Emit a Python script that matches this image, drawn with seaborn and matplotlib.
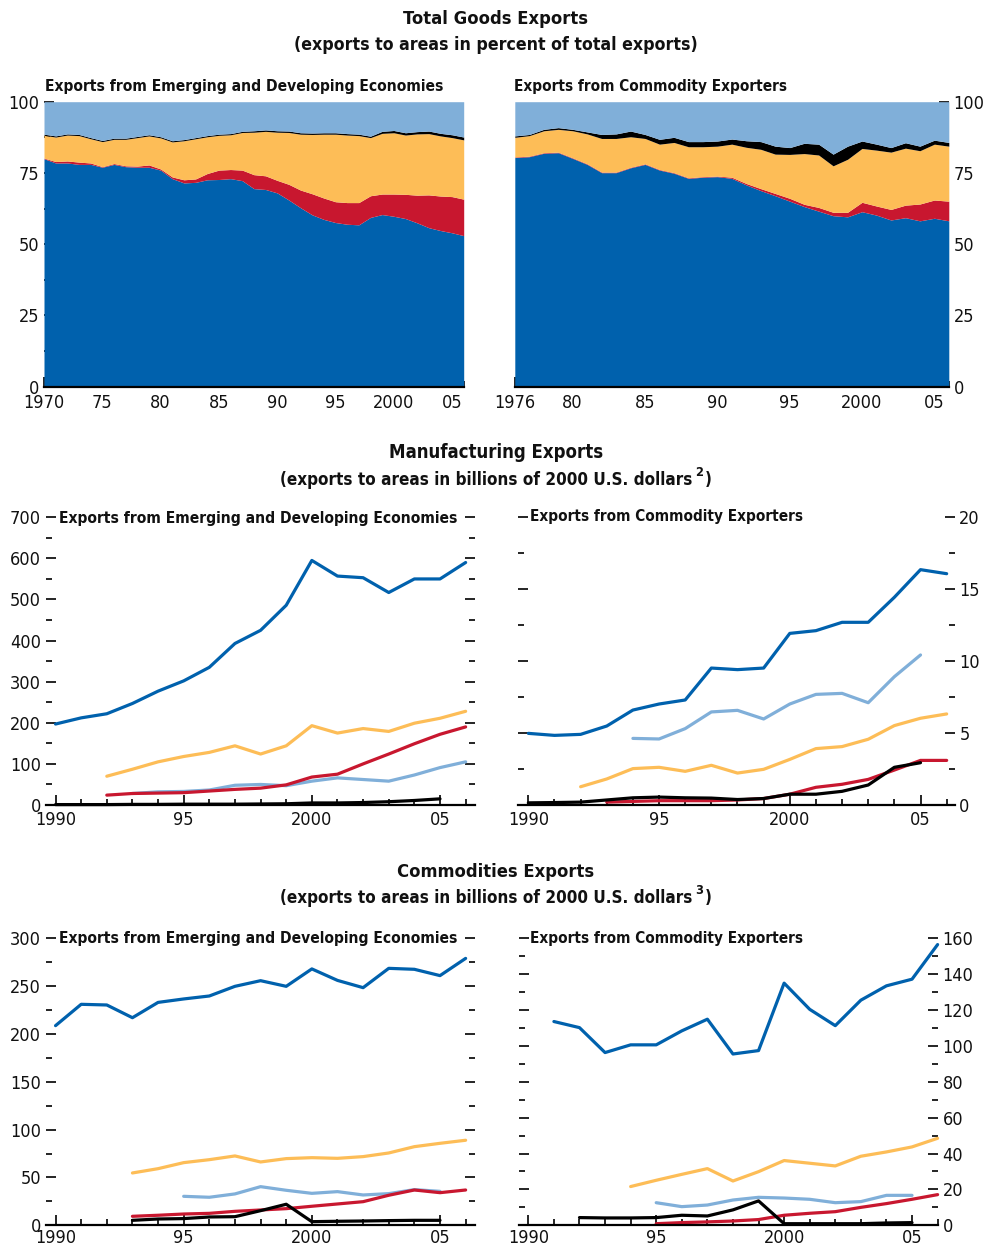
import numpy as np
import pandas as pd
import matplotlib
matplotlib.use("Agg")
import matplotlib.pyplot as plt
import matplotlib.font_manager as fm
from matplotlib.ticker import MultipleLocator, FixedLocator
import seaborn as sns

# 颜色
DARK_BLUE = "#0061ad"
LIGHT_BLUE = "#80afd9"
ORANGE = "#fdbd57"
RED = "#c8172f"
BLACK = "#000000"

# ---- Total goods exports, shares in percent ----
years_ede_share = list(range(1970, 2007))
ede_blue = [80, 78.5, 78.5, 78, 78, 77, 78, 77.2, 77, 77, 76, 73, 71.5, 71.7, 72.6, 72.7, 73, 72.3,
            69.5, 69.2, 68, 65.5, 62.8, 60.3, 58.7, 57.6, 57, 56.8, 59.4, 60.4, 59.8, 59, 57.5,
            55.8, 54.8, 54, 53]
ede_red = [0.2, 0.5, 0.7, 0.8, 0.5, 0.2, 0.3, 0.3, 0.4, 0.8, 0.4, 0.6, 1.1, 1.2, 2.2, 3.3, 3.2, 3.7,
           4.9, 4.8, 4.4, 5.5, 6.2, 7.4, 7.5, 7.3, 7.6, 7.8, 7.6, 7.2, 7.8, 8.5, 9.7, 11.5, 12.1,
           12.7, 12.8]
ede_orange = [8.0, 8.6, 9.1, 9.3, 8.5, 8.8, 8.5, 9.3, 10.0, 10.2, 10.9, 12.3, 13.7, 14.1, 12.9, 12.2,
              12.2, 13.2, 14.9, 15.6, 16.9, 18.2, 19.6, 20.8, 22.4, 23.7, 23.7, 23.5, 20.4, 21.3,
              21.5, 20.8, 21.5, 21.5, 21.1, 20.7, 20.8]
ede_black = [0.4] * 18 + [0.5] * 11 + [0.7, 0.8, 0.8, 0.8, 0.9, 0.9, 1.0, 1.0]
ede_lightblue = [11.4, 12.0, 11.3, 11.5, 12.6, 13.6, 12.8, 12.8, 12.2, 11.6, 12.3, 13.7, 13.3, 12.6,
                 11.9, 11.4, 11.2, 10.4, 10.2, 9.9, 10.2, 10.3, 10.9, 11.0, 10.9, 10.9, 11.2, 11.4,
                 12.1, 10.4, 10.1, 10.9, 10.5, 10.3, 11.1, 11.6, 12.4]

years_ce_share = list(range(1976, 2007))
ce_blue = [80.4, 80.7, 81.9, 82.1, 80.1, 78, 75.1, 75.1, 76.8, 78.0, 76, 74.9, 73.1, 73.5, 73.7, 73.1,
           70.8, 68.8, 67, 65.1, 63.2, 61.6, 60, 59.6, 61.4, 60.2, 58.5, 59.3, 58.2, 59.1, 58.2]
ce_red = [0.2] * 15 + [0.4, 0.5, 0.7, 0.8, 1.0, 0.8, 1.3, 1.2, 1.6, 3.3, 3.2, 3.7, 4.4, 5.9, 6.4, 6.9]
ce_orange = [6.9, 7.2, 7.7, 8.0, 9.5, 10.5, 11.8, 11.8, 10.7, 8.9, 8.9, 10.6, 10.9, 10.5, 10.5, 11.6,
             12.7, 13.8, 13.8, 15.4, 17.8, 18.4, 16.3, 18.6, 18.9, 19.6, 20.1, 20.0, 18.7, 19.6, 19.3]
ce_black = [0.5, 0.4, 0.5, 0.6, 0.5, 0.7, 1.4, 1.6, 2.0, 1.4, 1.7, 1.8, 1.8, 1.8, 1.8, 1.8, 2.3, 2.7,
            2.8, 2.4, 3.6, 3.8, 4.1, 4.6, 2.6, 2.1, 1.6, 1.9, 1.6, 1.4, 1.3]
ce_lightblue = [12, 11.5, 9.7, 9.1, 9.7, 10.6, 11.5, 11.3, 10.3, 11.5, 13.2, 12.5, 14, 14, 13.8, 13.1,
                13.7, 14, 15.6, 16.1, 14.6, 14.9, 18.4, 15.6, 13.8, 14.9, 16.1, 14.4, 15.6, 13.5, 14.3]

# ---- Manufacturing exports, billions of 2000 US$ ----
mfg_ede = {
    "blue": (range(1990, 2007), [197, 212, 222, 247, 277, 302, 335, 393, 425, 486, 595, 557, 553, 517,
                                 550, 550, 590]),
    "orange": (range(1992, 2007), [70, 87, 105, 118, 128, 144, 124, 144, 193, 175, 186, 179, 199, 211,
                                   228]),
    "lightblue": (range(1993, 2007), [28, 32, 33, 36.5, 48, 50, 47, 58, 66, 62, 58, 73, 91, 105]),
    "red": (range(1992, 2007), [24, 28, 29, 30, 34, 38, 41, 49, 68, 75, 100, 124, 149, 172, 190]),
    "black": (range(1990, 2006), [1, 1, 1, 1.5, 1.5, 2, 2, 2, 2.5, 3, 5, 5, 6, 8, 11, 15]),
}
mfg_ce = {
    "blue": (range(1990, 2007), [4.98, 4.84, 4.91, 5.49, 6.6, 7.02, 7.3, 9.52, 9.41, 9.52, 11.93, 12.12,
                                 12.7, 12.7, 14.44, 16.36, 16.08]),
    "lightblue": (range(1994, 2006), [4.63, 4.59, 5.31, 6.47, 6.58, 5.98, 7.02, 7.69, 7.76, 7.11, 8.92,
                                      10.43]),
    "orange": (range(1992, 2007), [1.27, 1.81, 2.53, 2.62, 2.34, 2.76, 2.22, 2.48, 3.17, 3.92, 4.06, 4.57,
                                   5.52, 6.03, 6.33]),
    "red": (range(1993, 2007), [0.2, 0.25, 0.3, 0.3, 0.3, 0.35, 0.45, 0.75, 1.23, 1.44, 1.78, 2.43, 3.1,
                                3.1]),
    "black": (range(1990, 2006), [0.15, 0.17, 0.2, 0.35, 0.5, 0.55, 0.5, 0.48, 0.38, 0.45, 0.75, 0.75,
                                  0.95, 1.39, 2.62, 2.94]),
}

# ---- Commodities exports, billions of 2000 US$ ----
com_ede = {
    "blue": (range(1990, 2007), [208.7, 231, 230.3, 217, 233, 236.6, 239.7, 249.8, 255.7, 249.8, 268,
                                 256, 248.4, 268.6, 267.6, 261, 279]),
    "orange": (range(1993, 2007), [54.7, 59.2, 65.5, 68.6, 72.5, 66.2, 69.7, 70.7, 70, 71.8, 75.6, 82.2,
                                   85.7, 88.9]),
    "lightblue": (range(1995, 2006), [30.3, 29.3, 32.8, 40.4, 36.6, 33.4, 35.2, 31.7, 33.1, 37.3, 35.5]),
    "red": (range(1993, 2007), [9.4, 10.5, 11.8, 12.5, 14.6, 16, 17.4, 19.9, 22.3, 24.7, 31.4, 36.9,
                                34.1, 36.9]),
    "black": (range(1993, 2006), [5.2, 6.6, 7, 8.7, 9, 15.3, 22, 3.8, 4.2, 4.5, 4.9, 5.2, 5.2]),
}
com_ce = {
    "blue": (range(1991, 2007), [113.6, 110.2, 96.3, 100.6, 100.6, 108.4, 114.9, 95.5, 97.4, 135, 120.4,
                                 111.3, 125.5, 133.5, 137.2, 156.5]),
    "orange": (range(1994, 2007), [21.6, 25.1, 28.4, 31.6, 24.7, 29.9, 36.1, 34.6, 33.1, 38.5, 40.9, 43.7,
                                   48.5]),
    "lightblue": (range(1995, 2006), [12.6, 10.4, 11.3, 14.1, 15.6, 15.2, 14.5, 12.6, 13.2, 16.7, 16.7]),
    "red": (range(1995, 2007), [0.9, 1.5, 1.9, 2.4, 3.2, 5.6, 6.7, 7.6, 10, 12.1, 14.5, 17.1]),
    "black": (range(1992, 2006), [4.3, 4.1, 4.1, 4.3, 5.6, 5.2, 8.6, 13.6, 0.9, 0.9, 0.9, 0.9, 1.3, 1.5]),
}

colors = {"blue": DARK_BLUE, "lightblue": LIGHT_BLUE, "orange": ORANGE, "red": RED, "black": BLACK}

sns.set_theme(style="ticks")

# 找一个窄体字体 (condensed), 没有的话用 Liberation Sans
installed = fm.fontManager.ttflist
names = {f.name for f in installed}
STRETCH = "normal"
if "Liberation Sans Narrow" in names:
    FONT = ["Liberation Sans Narrow", "DejaVu Sans"]
elif any(f.name == "DejaVu Sans" and f.stretch in ("condensed", "semi-condensed") for f in installed):
    FONT = ["DejaVu Sans"]
    STRETCH = "condensed"
else:
    FONT = ["Liberation Sans", "DejaVu Sans"]
plt.rcParams["font.family"] = FONT
plt.rcParams["font.stretch"] = STRETCH

W, H = 984, 1251
fig = plt.figure(figsize=(W / 100, H / 100), dpi=100)


def px_axes(x0, x1, y_top, y_bot):
    return fig.add_axes([x0 / W, 1 - y_bot / H, (x1 - x0) / W, (y_bot - y_top) / H])


def style_axes(ax, ymax, ymajor, yminor, xpad):
    for s in ["left", "right", "top"]:
        ax.spines[s].set_visible(False)
    ax.spines["bottom"].set_linewidth(1.6)
    ax.spines["bottom"].set_color("black")
    ax.set_ylim(0, ymax)
    ax.yaxis.set_major_locator(MultipleLocator(ymajor))
    ax.yaxis.set_minor_locator(MultipleLocator(yminor))
    ax.tick_params(axis="both", which="both", direction="in", color="black", width=1.2,
                   labelsize=13, labelcolor="#111111")
    ax.tick_params(axis="both", which="major", length=7, pad=3.5)
    ax.tick_params(axis="both", which="minor", length=4)
    ax.tick_params(axis="x", which="major", pad=xpad)
    ax.set_xlabel("")
    ax.set_ylabel("")
    ax.set_facecolor("none")
    ax.grid(False)


def stacked_panel(ax, years, layers, x0, x1, majors, labels, side):
    ax.stackplot(years, *layers, colors=[DARK_BLUE, RED, ORANGE, BLACK, LIGHT_BLUE],
                 linewidth=0)
    ax.set_xlim(x0, x1)
    style_axes(ax, 100, 25, 12.5, 5.5)
    ax.xaxis.set_major_locator(FixedLocator(majors))
    ax.xaxis.set_minor_locator(MultipleLocator(1))
    ax.set_xticklabels(labels)
    if side == "left":
        ax.tick_params(axis="y", which="both", left=True, right=False, labelleft=True, labelright=False)
    else:
        ax.tick_params(axis="y", which="both", left=False, right=True, labelleft=False, labelright=True)
    ax.spines["bottom"].set_zorder(5)


def line_panel(ax, series, ymax, ymajor, yminor, side, xright, xpad, right_out=False):
    for key in ["blue", "orange", "lightblue", "red", "black"]:
        yrs, vals = series[key]
        df = pd.DataFrame({"year": list(yrs), "value": vals})
        sns.lineplot(data=df, x="year", y="value", color=colors[key], linewidth=2.3, ax=ax,
                     legend=False, clip_on=False)
    ax.set_xlim(1989.62, xright)
    style_axes(ax, ymax, ymajor, yminor, xpad)
    ax.xaxis.set_major_locator(FixedLocator([1990, 1995, 2000, 2005]))
    ax.xaxis.set_minor_locator(MultipleLocator(1))
    ax.set_xticklabels(["1990", "95", "2000", "05"])
    ax.tick_params(axis="y", which="both", left=True, right=True,
                   labelleft=(side == "left"), labelright=(side == "right"))
    if right_out:
        ax.tick_params(axis="y", which="both", right=True, direction="out")
        ax.tick_params(axis="y", which="both", left=True, direction="in")


# ---- top row ----
ax1 = px_axes(44, 463.7, 101.7, 386.7)
stacked_panel(ax1, years_ede_share, [ede_blue, ede_red, ede_orange, ede_black, ede_lightblue],
              1970, 2006, [1970, 1975, 1980, 1985, 1990, 1995, 2000, 2005],
              ["1970", "75", "80", "85", "90", "95", "2000", "05"], "left")
ax2 = px_axes(514.8, 948.8, 101.7, 386.7)
stacked_panel(ax2, years_ce_share, [ce_blue, ce_red, ce_orange, ce_black, ce_lightblue],
              1976, 2006, [1976, 1980, 1985, 1990, 1995, 2000, 2005],
              ["1976", "80", "85", "90", "95", "2000", "05"], "right")

# ---- middle row ----
ax3 = px_axes(45.8, 474.6, 517.3, 805)
line_panel(ax3, mfg_ede, 700, 100, 50, "left", 2006.35, 4)
ax4 = px_axes(518.4, 954.5, 517.3, 805)
line_panel(ax4, mfg_ce, 20, 5, 2.5, "right", 2006.3, 4)

# ---- bottom row ----
ax5 = px_axes(45.8, 474.6, 938.3, 1225.3)
line_panel(ax5, com_ede, 300, 50, 25, "left", 2006.35, 2.5)
ax6 = px_axes(518.6, 937.6, 938.3, 1225.3)
line_panel(ax6, com_ce, 160, 20, 10, "right", 2006.0, 2.5, right_out=True)

renderer = fig.canvas.get_renderer()


def ftext(x, y, s, width_px, ha="center", size=15):
    # 按参考图中的文字宽度调整字号
    t = fig.text(x / W, 1 - y / H, s, ha=ha, va="center", fontsize=size,
                 fontweight="bold", color="#111111")
    w = t.get_window_extent(renderer).width
    t.set_fontsize(min(size * width_px / w, 17))
    return t


ftext(496, 19, "Total Goods Exports", 185)
ftext(496, 45, "(exports to areas in percent of total exports)", 405)
ftext(45, 86, "Exports from Emerging and Developing Economies", 400, ha="left")
ftext(514, 86, "Exports from Commodity Exporters", 272, ha="left")

ftext(496, 453, "Manufacturing Exports", 216)
ftext(496, 872, "Commodities Exports", 198)
for y, sup in [(480, "2"), (898, "3")]:
    t = ftext(280, y, "(exports to areas in billions of 2000 U.S. dollars", 415, ha="left")
    fs = t.get_fontsize()
    s = ax1.annotate(sup, xy=(1, 0.55), xycoords=t, xytext=(2, 0), textcoords="offset points",
                     ha="left", va="bottom", fontsize=fs * 0.75, fontweight="bold",
                     color="#111111", annotation_clip=False)
    ax1.annotate(")", xy=(1, 0), xycoords=(s, t), xytext=(1.5, 0), textcoords="offset points",
                 ha="left", va="bottom", fontsize=fs, fontweight="bold",
                 color="#111111", annotation_clip=False)

ftext(59, 519, "Exports from Emerging and Developing Economies", 400, ha="left")
ftext(530, 517, "Exports from Commodity Exporters", 272, ha="left")
ftext(59, 939, "Exports from Emerging and Developing Economies", 400, ha="left")
ftext(530, 939, "Exports from Commodity Exporters", 272, ha="left")

fig.savefig("out.png", dpi=100, facecolor="white")
